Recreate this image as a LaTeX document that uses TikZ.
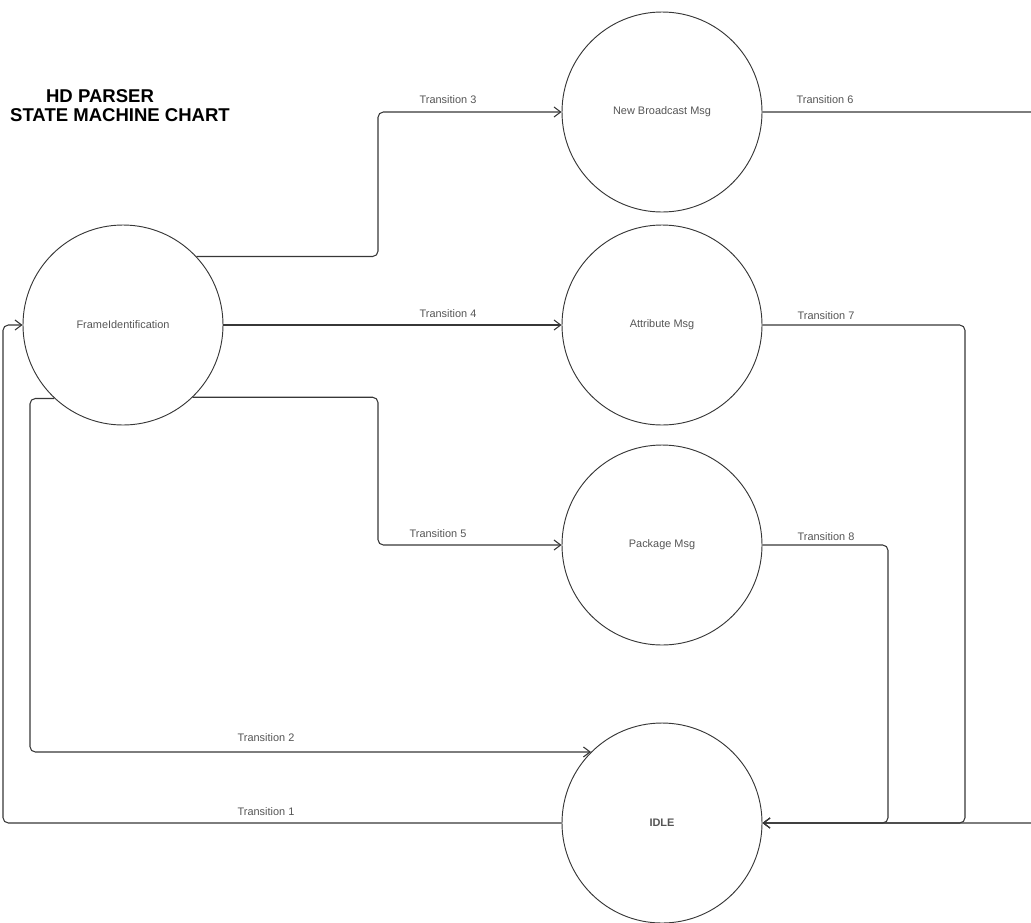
\documentclass[tikz,border=0pt]{standalone}
\usepackage{fontspec}
\setmainfont{Liberation Sans}
\usetikzlibrary{positioning,arrows.meta}
\definecolor{linegray}{RGB}{55,55,55}
\definecolor{textgray}{RGB}{85,85,85}

\begin{document}
\begin{tikzpicture}[x=0.75pt, y=-0.75pt,
  state/.style={circle, draw=linegray, line width=0.7pt, minimum size=150pt,
    inner sep=0pt, font=\fontsize{8.2}{10}\selectfont, text=textgray},
  conn/.style={draw=linegray, line width=0.8pt, rounded corners=4pt,
    -{Straight Barb[length=5pt,width=7.5pt]}},
  lbl/.style={font=\fontsize{8.2}{10}\selectfont, text=textgray}]
  % Page: 1031 x 922 px
  \useasboundingbox (0,0) rectangle (1031,922);
  \clip (0,0) rectangle (1031,922);

  % Title
  \node[font=\fontsize{13.9}{16}\selectfont\bfseries] (title1) at (100,96) {HD PARSER};
  \node[font=\fontsize{13.9}{16}\selectfont\bfseries] (title2) at (120,115) {STATE MACHINE CHART};

  % States
  \node[state] (fi) at (123,325) {FrameIdentification};
  \node[state] (nb) at (662,112) {New Broadcast Msg};
  \node[state] (at) at (662,325) {Attribute Msg};
  \node[state] (pk) at (662,545) {Package Msg};
  \node[state, font=\fontsize{8.2}{10}\selectfont\bfseries] (idle) at (662,823) {IDLE};

  % Transitions out of FrameIdentification
  \draw[conn] (fi.43) -| (378,112) -- (nb.west);
  \draw[conn] (fi.east) -- (at.west);
  \draw[conn] (fi.-46) -| (378,545) -- (pk.west);
  \draw[conn] (fi.-133) -| (30,752) -- (idle.135);

  % Back to IDLE
  \draw[conn] (nb.east) -- (1042,112) -- (1042,823) -- (idle.east);
  \draw[conn] (at.east) -| (965,823) -- (idle.east);
  \draw[conn] (pk.east) -| (888,823) -- (idle.east);

  % IDLE -> FrameIdentification
  \draw[conn] (idle.west) -| (3,325) -- (fi.west);

  % Labels
  \node[lbl] (t1) at (266,812) {Transition 1};
  \node[lbl] (t2) at (266,738) {Transition 2};
  \node[lbl] (t3) at (448,100) {Transition 3};
  \node[lbl] (t4) at (448,314) {Transition 4};
  \node[lbl] (t5) at (438,534) {Transition 5};
  \node[lbl] (t6) at (825,100) {Transition 6};
  \node[lbl] (t7) at (826,316) {Transition 7};
  \node[lbl] (t8) at (826,537) {Transition 8};
\end{tikzpicture}
\end{document}
